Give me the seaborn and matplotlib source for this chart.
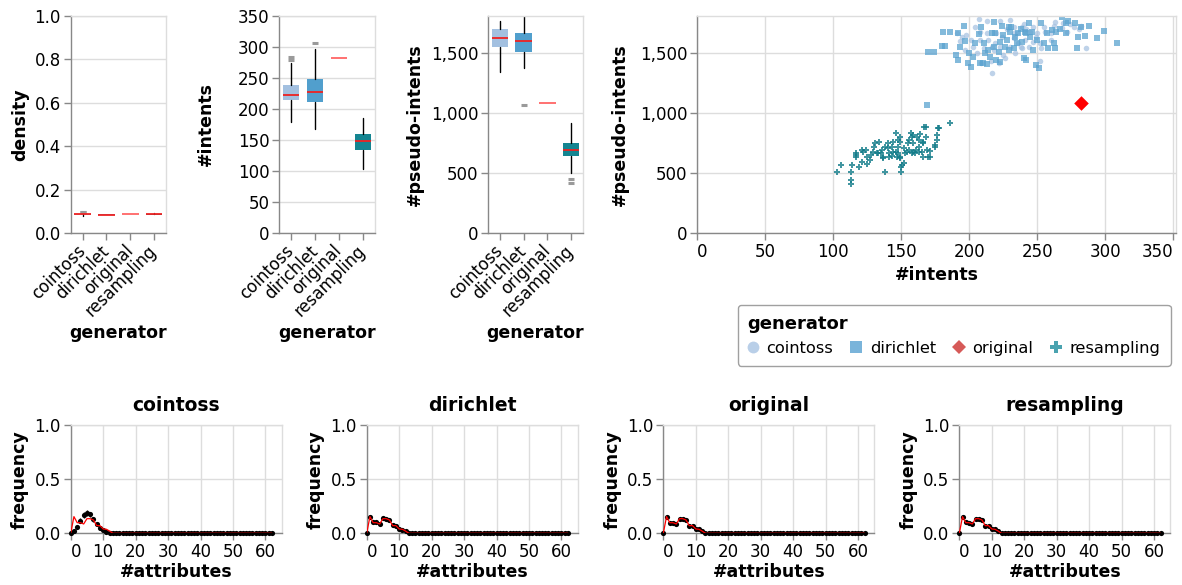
import numpy as np
import pandas as pd
import matplotlib
matplotlib.use("Agg")
import matplotlib.pyplot as plt
import seaborn as sns
from matplotlib.lines import Line2D
from matplotlib.ticker import FuncFormatter

# generators (order used everywhere)
generators = ["cointoss", "dirichlet", "original", "resampling"]
box_colors = ["#a3c0e0", "#519fcd", "#ff5555", "#148591"]
pt_colors = ["#a3c0e0", "#5aa3d0", "#ff0000", "#137c8a"]

# box plot stats: whislo, q1, median, q3, whishi
density_box = [[0.079, 0.083, 0.086, 0.089, 0.093], [0.081, 0.084, 0.085, 0.087, 0.089],
               [0.086, 0.086, 0.086, 0.086, 0.086], [0.081, 0.084, 0.086, 0.087, 0.090]]
density_fliers = [[0.096, 0.099], [], [], []]
intents_box = [[179, 214, 223, 238, 274], [168, 211, 227, 248, 297],
               [282, 282, 282, 282, 282], [104, 134, 148, 159, 186]]
intents_fliers = [[279, 284], [307], [], []]
pseudo_box = [[1339, 1547, 1622, 1700, 1769], [1378, 1506, 1600, 1664, 1808],
              [1081, 1081, 1081, 1081, 1081], [503, 642, 689, 747, 914]]
pseudo_fliers = [[], [1067], [], [447, 414]]

# scatter: (#intents, #pseudo-intents)
cointoss_pts = [(204, 1714), (207, 1781), (213, 1769), (223, 1769), (230, 1775), (233, 1714), (239, 1714),
                (247, 1719), (255, 1719), (262, 1725), (269, 1753), (277, 1719), (282, 1725), (286, 1539),
                (201, 1608), (203, 1553), (193, 1603), (198, 1650), (208, 1608), (211, 1539), (214, 1608),
                (217, 1553), (217, 1336), (219, 1581), (220, 1664), (224, 1636), (225, 1483), (228, 1697),
                (230, 1553), (233, 1622), (235, 1664), (238, 1553), (239, 1539), (241, 1608), (242, 1697),
                (245, 1678), (247, 1594), (250, 1664), (252, 1436), (252, 1581), (256, 1678), (260, 1664),
                (263, 1761), (268, 1706), (274, 1742), (281, 1697), (191, 1669), (195, 1636), (197, 1525),
                (206, 1497), (209, 1414), (216, 1436), (222, 1419), (226, 1456), (218, 1525), (223, 1553),
                (234, 1497), (236, 1581), (244, 1553), (249, 1636), (253, 1539), (240, 1742), (233, 1664),
                (213, 1664), (208, 1678), (260, 1608), (272, 1678)]
dirichlet_pts = [(169, 1067), (170, 1511), (174, 1506), (180, 1561), (182, 1561), (181, 1672), (186, 1672),
                 (192, 1664), (196, 1725), (190, 1483), (192, 1442), (193, 1553), (197, 1603), (199, 1419),
                 (201, 1386), (200, 1503), (203, 1464), (204, 1581), (207, 1656), (208, 1419), (210, 1414),
                 (211, 1581), (212, 1497), (213, 1408), (214, 1525), (215, 1469), (217, 1664), (218, 1761),
                 (218, 1553), (220, 1442), (222, 1511), (223, 1594), (223, 1428), (224, 1725), (225, 1650),
                 (226, 1553), (228, 1608), (229, 1525), (230, 1678), (231, 1714), (233, 1539), (234, 1636),
                 (235, 1581), (236, 1664), (238, 1697), (239, 1594), (240, 1456), (241, 1678), (242, 1442),
                 (244, 1753), (245, 1636), (246, 1678), (247, 1525), (249, 1400), (250, 1608), (251, 1372),
                 (253, 1753), (255, 1586), (257, 1664), (258, 1539), (261, 1692), (263, 1539), (264, 1678),
                 (267, 1697), (268, 1803), (271, 1664), (273, 1769), (278, 1753), (279, 1539), (280, 1636),
                 (285, 1642), (288, 1725), (294, 1622), (299, 1683), (309, 1586), (282, 1714), (271, 1747),
                 (229, 1719), (242, 1664), (219, 1664), (209, 1714), (262, 1586)]
original_pts = [(282, 1081)]
resampling_pts = [(103, 506), (106, 569), (113, 511), (114, 564), (113, 442), (113, 411), (117, 669), (117, 650),
                  (119, 553), (121, 594), (121, 692), (124, 692), (125, 636), (125, 572), (127, 608), (129, 678),
                  (130, 719), (131, 747), (132, 664), (134, 761), (135, 664), (136, 692), (137, 622), (138, 506),
                  (140, 747), (140, 706), (141, 664), (141, 631), (143, 719), (143, 642), (144, 756), (146, 678),
                  (146, 831), (147, 636), (148, 719), (149, 622), (149, 761), (150, 553), (150, 511), (151, 567),
                  (152, 581), (152, 706), (153, 664), (154, 678), (155, 747), (156, 775), (157, 831), (158, 803),
                  (159, 747), (160, 664), (161, 692), (162, 803), (163, 775), (163, 719), (164, 825), (165, 678),
                  (166, 747), (166, 636), (167, 886), (168, 886), (169, 692), (170, 631), (171, 686), (175, 733),
                  (175, 719), (176, 775), (176, 817), (177, 872), (178, 878), (186, 914), (168, 803), (159, 678),
                  (156, 692), (148, 664), (144, 678), (138, 719), (133, 664), (128, 650), (122, 678), (117, 636),
                  (137, 636), (149, 636), (158, 664), (163, 678), (148, 775), (149, 803), (166, 761), (171, 636),
                  (159, 817)]

# attribute-count distributions, #attributes = 0..62 (all zero beyond 13)
n_attrs = 63
original_freq = [0.0, 0.154, 0.098, 0.098, 0.086, 0.135, 0.135, 0.123, 0.071, 0.071, 0.040, 0.037, 0.020, 0.0]
cointoss_freq = [0.006, 0.025, 0.060, 0.117, 0.170, 0.190, 0.175, 0.130, 0.083, 0.052, 0.030, 0.015, 0.006, 0.002]
cointoss_err = [0.004, 0.010, 0.015, 0.020, 0.025, 0.027, 0.025, 0.022, 0.018, 0.013, 0.009, 0.006, 0.003, 0.002]
dirichlet_freq = [0.0, 0.154, 0.105, 0.100, 0.090, 0.138, 0.128, 0.120, 0.075, 0.070, 0.040, 0.035, 0.020, 0.004]
dirichlet_err = [0.0, 0.018, 0.016, 0.016, 0.015, 0.018, 0.017, 0.016, 0.013, 0.012, 0.009, 0.008, 0.005, 0.003]
resampling_freq = [0.0, 0.152, 0.100, 0.098, 0.088, 0.135, 0.132, 0.121, 0.072, 0.070, 0.040, 0.036, 0.020, 0.003]
resampling_err = [0.0, 0.018, 0.015, 0.015, 0.014, 0.017, 0.016, 0.016, 0.012, 0.012, 0.008, 0.008, 0.005, 0.002]


def pad(vals):
    return list(vals) + [0.0] * (n_attrs - len(vals))


sns.set_theme(style="whitegrid")
plt.rcParams["font.family"] = ["DejaVu Sans"]
plt.rcParams["text.color"] = "black"
plt.rcParams["axes.labelcolor"] = "black"

TICK = 12
LAB = 12.5

W, H = 1182, 585
fig = plt.figure(figsize=(W / 100, H / 100), dpi=100)


def add_ax(l, r, t, b):
    return fig.add_axes([l / W, 1 - b / H, (r - l) / W, (b - t) / H])


def style(ax, xgrid=True):
    for s in ["top", "right"]:
        ax.spines[s].set_color("#dddddd")
    for s in ["left", "bottom"]:
        ax.spines[s].set_color("#888888")
    for s in ax.spines.values():
        s.set_linewidth(1)
    ax.tick_params(length=5, width=1, color="#888888", labelcolor="black", labelsize=TICK, pad=2,
                   bottom=True, left=True, direction="out")
    ax.grid(True, color="#dddddd", lw=1)
    ax.xaxis.grid(xgrid)
    ax.set_axisbelow(True)


def flush_x(ax, last=False):
    labels = ax.get_xticklabels()
    labels[0].set_horizontalalignment("left")
    if last:
        labels[-1].set_horizontalalignment("right")


def ylabel_at(ax, text, right_px, l, r):
    ax.set_ylabel(text, fontsize=LAB, fontweight="bold")
    ax.yaxis.set_label_coords((right_px - l) / (r - l), 0.5)


comma = FuncFormatter(lambda v, p: f"{int(v):,}")

# --- box plots ---
box_specs = [
    (70.7, 166, density_box, density_fliers, "density", 29, (0, 1), [0, 0.2, 0.4, 0.6, 0.8, 1.0], "{:.1f}"),
    (279, 375, intents_box, intents_fliers, "#intents", 215, (0, 350), list(range(0, 351, 50)), None),
    (488, 583, pseudo_box, pseudo_fliers, "#pseudo-intents", 424, (0, 1808), [0, 500, 1000, 1500], "comma"),
]
for l, r, boxes, fliers, ylab, ypx, ylim, yt, fmt in box_specs:
    ax = add_ax(l, r, 16, 233)
    stats = []
    for g, b, f in zip(generators, boxes, fliers):
        stats.append(dict(label=g, whislo=b[0], q1=b[1], med=b[2], q3=b[3], whishi=b[4], fliers=f))
    bp = ax.bxp(stats, positions=range(4), widths=0.7, patch_artist=True, showcaps=False,
                boxprops=dict(linewidth=0),
                whiskerprops=dict(color="black", lw=1),
                medianprops=dict(color="#ee2222", lw=1.3),
                flierprops=dict(marker="_", markeredgecolor="#9a9a9a", markersize=5, mew=2.2))
    for patch, c, g in zip(bp["boxes"], box_colors, generators):
        patch.set_facecolor("none" if g == "original" else c)
    bp["medians"][2].set_color("#ff6666")
    ax.set_xlim(-0.5, 3.5)
    ax.set_ylim(*ylim)
    ax.set_yticks(yt)
    if fmt == "comma":
        ax.yaxis.set_major_formatter(comma)
    elif fmt:
        ax.set_yticklabels([fmt.format(v) for v in yt])
    style(ax, xgrid=False)
    ax.set_xticks(range(4))
    ax.set_xticklabels(generators, rotation=45, ha="right", va="center", rotation_mode="anchor")
    ax.tick_params(axis="x", pad=6)
    ax.set_xlabel("generator", fontsize=LAB, fontweight="bold")
    ax.xaxis.set_label_coords(0.5, -0.42)
    ylabel_at(ax, ylab, ypx, l, r)

# --- scatter ---
sl, sr = 697, 1176
ax = add_ax(sl, sr, 16, 233)
marker_map = ["o", "s", "D", "P"]
size_map = [16, 17, 55, 22]
alpha_map = [0.7, 0.75, 1.0, 0.8]
for g, pts, c, m, s, a in zip(generators, [cointoss_pts, dirichlet_pts, original_pts, resampling_pts],
                              pt_colors, marker_map, size_map, alpha_map):
    df = pd.DataFrame(pts, columns=["#intents", "#pseudo-intents"])
    sns.scatterplot(data=df, x="#intents", y="#pseudo-intents", color=c, marker=m, s=s,
                    alpha=a, linewidth=0, ax=ax, legend=False, zorder=3 if g == "original" else 2)
ax.set_xlim(0, 352)
ax.set_ylim(0, 1808)
ax.set_xticks(range(0, 351, 50))
ax.set_yticks([0, 500, 1000, 1500])
ax.yaxis.set_major_formatter(comma)
style(ax)
flush_x(ax, last=True)
ax.set_xlabel("#intents", fontsize=LAB, fontweight="bold")
ylabel_at(ax, "#pseudo-intents", 629, sl, sr)

# legend
leg_colors = ["#b9cfe8", "#7ab4da", "#d65a58", "#4aa3b0"]
handles = [Line2D([], [], marker=m, ls="", color=c, markersize=ms, markeredgewidth=0)
           for m, c, ms in zip(["o", "s", "D", "P"], leg_colors, [8.5, 8.5, 7, 9])]
leg = fig.legend(handles, generators, title="generator", ncol=4, loc="upper left",
                 bbox_to_anchor=(738 / W, 1 - 305 / H), borderaxespad=0, frameon=True, fancybox=True,
                 fontsize=11.7, title_fontproperties={"weight": "bold", "size": 13},
                 handletextpad=0.55, columnspacing=1.1, borderpad=0.6, handlelength=0.6,
                 alignment="left", labelspacing=0.5)
leg.get_frame().set_edgecolor("#888888")
leg.get_frame().set_linewidth(1)

# --- frequency panels ---
attrs = np.arange(n_attrs)
freq_specs = [
    (70.7, 281.7, "cointoss", cointoss_freq, cointoss_err),
    (366.7, 577.7, "dirichlet", dirichlet_freq, dirichlet_err),
    (663.3, 874.3, "original", original_freq, [0.0] * len(original_freq)),
    (959.3, 1170.3, "resampling", resampling_freq, resampling_err),
]
for l, r, g, fr, er in freq_specs:
    ax = add_ax(l, r, 425, 533.3)
    fr_full = pad(fr)
    er_full = pad(er)
    ax.errorbar(attrs, fr_full, yerr=er_full, fmt="none", ecolor="black", elinewidth=1, capsize=0,
                clip_on=False, zorder=3)
    sns.scatterplot(x=attrs, y=fr_full, color="black", s=14, linewidth=0, ax=ax, clip_on=False, zorder=4)
    sns.lineplot(x=attrs, y=pad(original_freq), color="red", lw=0.9, ax=ax, zorder=5)
    ax.set_xlim(0, 65)
    ax.set_ylim(0, 1)
    ax.set_xticks(range(0, 61, 10))
    ax.set_yticks([0, 0.5, 1.0])
    ax.set_yticklabels(["0.0", "0.5", "1.0"])
    style(ax)
    flush_x(ax)
    ax.set_xlabel("#attributes", fontsize=LAB, fontweight="bold", labelpad=1.5)
    ylabel_at(ax, "frequency", l - 42, l, r)
    ax.set_title(g, fontsize=13.5, fontweight="bold", pad=10)

fig.savefig("out.png", dpi=100)
